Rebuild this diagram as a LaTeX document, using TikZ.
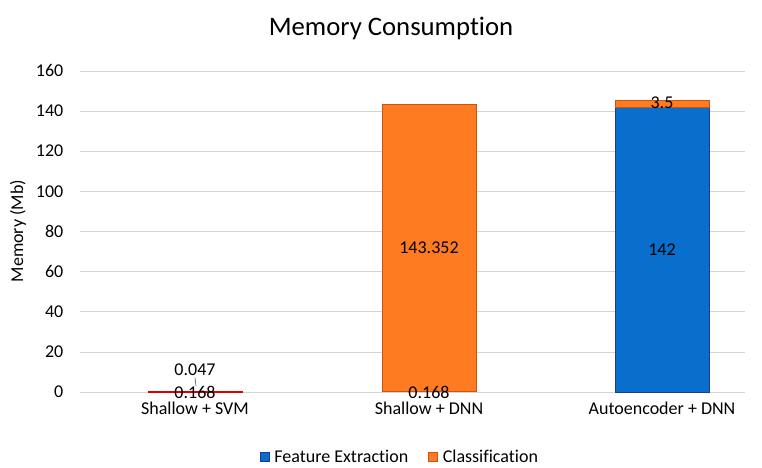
\documentclass[tikz,border=0pt]{standalone}
\usepackage{fontspec}
\setmainfont{Carlito}[Ligatures=CommonOff]
\usetikzlibrary{positioning}
\definecolor{featblue}{HTML}{0A6ECD}
\definecolor{featedge}{HTML}{1C3C8C}
\definecolor{classorange}{HTML}{FF7B22}
\definecolor{classedge}{HTML}{C8560E}
\definecolor{gridgray}{HTML}{D4D4D4}

\begin{document}
\begin{tikzpicture}[x=0.025cm, y=-0.025cm,
  every node/.style={font=\fontsize{12.8pt}{15pt}\selectfont, inner sep=1pt},
  ticklabel/.style={anchor=east},
  legendbox/.style={minimum size=0.22cm, inner sep=0pt}]
  \useasboundingbox (0,0) rectangle (762,467);
  % title
  \node[font=\fontsize{19pt}{22pt}\selectfont] (title) at (391,28) {Memory Consumption};
  \node[rotate=90] (ytitle) at (18,231) {Memory (Mb)};
  % plot area, one unit = 1 Mb
  \begin{scope}[shift={(0,392)}, y=0.05015cm]
    \foreach \v in {0,20,...,160} {
      \draw[gridgray] (80,\v) -- (745,\v);
      \node[ticklabel] (tick\v) at (65,\v) {\v};
    }
    % Shallow + SVM
    \filldraw[fill=classorange, draw=red!85!black, line width=0.6pt] (148,0) rectangle (242,0.215);
    % Shallow + DNN
    \filldraw[fill=classorange, draw=classedge] (382,0.168) rectangle (476,143.52);
    % Autoencoder + DNN
    \filldraw[fill=featblue, draw=featedge] (615,0) rectangle (709,142);
    \filldraw[fill=classorange, draw=classedge] (615,142) rectangle (709,145.5);
    % value labels
    \node (svmclass) at (195,11) {0.047};
    \node (svmfeat) at (195,0) {0.168};
    \coordinate (svmtick) at (196,3);
    \draw[black!70] (svmclass.south) -- (svmtick);
    \node (dnnclass) at (429,71.9) {143.352};
    \node (dnnfeat) at (429,0) {0.168};
    \node (aefeat) at (662,71) {142};
    \node (aeclass) at (662,144) {3.5};
    % categories
    \node (catsvm) at (195,-8) {Shallow + SVM};
    \node (catdnn) at (429,-8) {Shallow + DNN};
    \node (catae) at (662,-8) {Autoencoder + DNN};
  \end{scope}
  % legend
  \node[legendbox, fill=featblue, draw=featedge] (legfeat) at (264.5,456.5) {};
  \node[right=2.5pt of legfeat] (legfeattext) {Feature Extraction};
  \node[legendbox, fill=classorange, draw=classedge, right=13pt of legfeattext] (legclass) {};
  \node[right=2.5pt of legclass] (legclasstext) {Classification};
\end{tikzpicture}
\end{document}
